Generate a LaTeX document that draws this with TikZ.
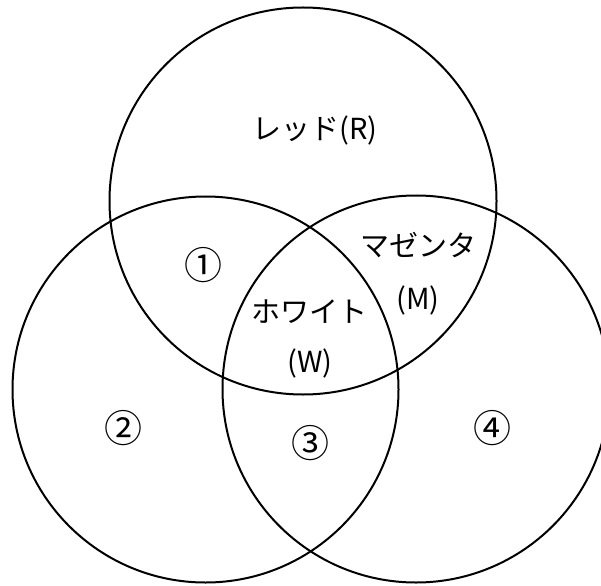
\documentclass[tikz,border=0pt]{standalone}
\usepackage{fontspec}
\setmainfont{Noto Sans CJK JP}
\usepackage{tikz}
\tikzset{
  colourring/.style={draw=black,line width=2pt},
  arealabel/.style={font=\fontsize{29}{32}\selectfont,inner sep=0pt},
  regionnum/.style={font=\fontsize{38}{40}\selectfont,inner sep=0pt}
}
\begin{document}
\begin{tikzpicture}[x=1pt,y=-1pt]
  \useasboundingbox (0,0) rectangle (601,585);
  % three circles
  \draw[colourring] (303,201) circle[radius=193.5];
  \draw[colourring] (205.5,389.5) circle[radius=193];
  \draw[colourring] (416,389) circle[radius=193.5];
  % colour names
  \node[arealabel] (red) at (315,130) {レッド(R)};
  \node[arealabel] (magenta) at (418,245) {マゼンタ};
  \node[arealabel] (magentam) at (418,300) {(M)};
  \node[arealabel] (white) at (309,312) {ホワイト};
  \node[arealabel] (whitew) at (310,363) {(W)};
  % numbered regions
  \node[regionnum] (one) at (203,265) {①};
  \node[regionnum] (two) at (123,428) {②};
  \node[regionnum] (three) at (310,443) {③};
  \node[regionnum] (four) at (492,428) {④};
\end{tikzpicture}
\end{document}
